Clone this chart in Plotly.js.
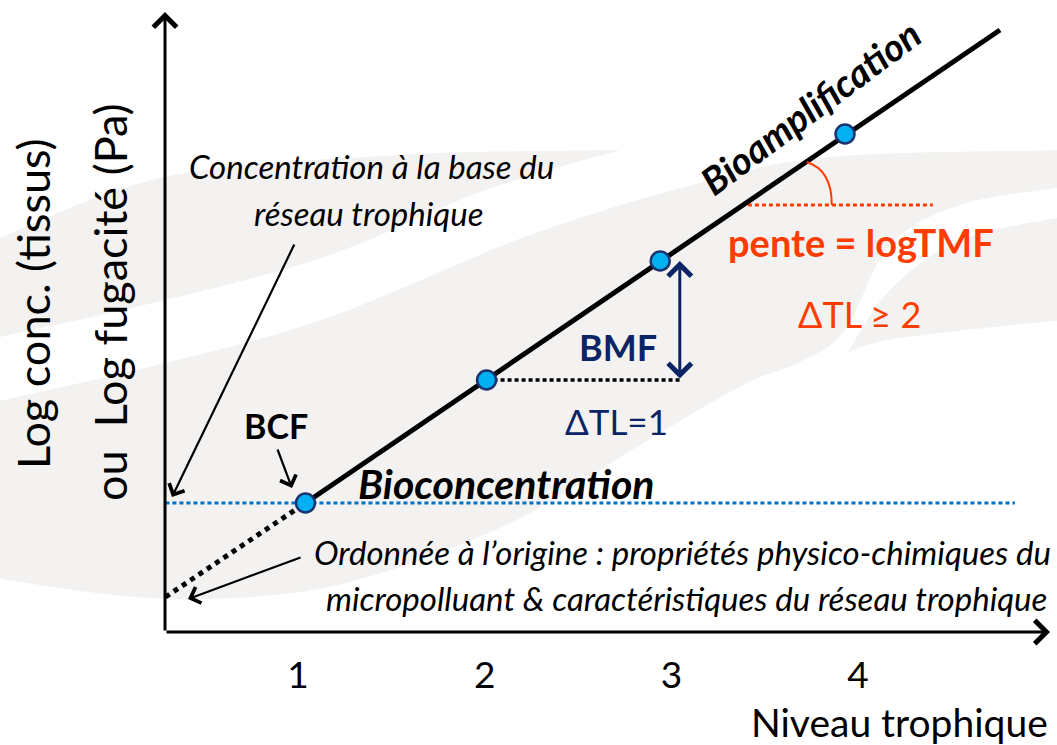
<!DOCTYPE html>
<html>
<head>
<meta charset="utf-8">
<script src="https://cdn.plot.ly/plotly-3.0.1.min.js"></script>
<style>html,body{margin:0;padding:0;background:#fff;}#chart{width:1057px;height:745px;}</style>
</head>
<body>
<div id="chart"></div>
<script>
// ---------- data ----------
const tickLevels = [1, 2, 3, 4];
const tickLabels = ['1', '2', '3', '4'];
const pointTL = [1.04, 2.01, 2.94, 3.93];
const pointLogC = [1.29, 2.52, 3.71, 4.98];
const fitTL = [1.04, 4.76];
const fitLogC = [1.29, 6.02];
const interceptTL = [0.29, 1.04];
const interceptLogC = [0.35, 1.29];
const baseTL = [0.29, 4.84];
const baseLogC = [1.29, 1.29];
const bmfTL = [2.01, 3.045];
const bmfLogC = [2.52, 2.52];
const slopeRefTL = [3.41, 4.40];
const slopeRefLogC = [4.27, 4.27];
const xRange = [0.2876, 5.028];
const yRange = [0, 6.2];

// ---------- layout helpers ----------
const M = {l: 165, r: 7, t: 12, b: 113};
const W = 1057 - M.l - M.r, H = 745 - M.t - M.b;
const px = x => (x - M.l) / W;
const py = y => (745 - M.b - y) / H;
const FONT = "Lato, 'Open Sans', sans-serif";
const RED = '#ff3c00', NAVY = '#0a2466', GREY = '#f3f2f0';

function curve(pts) {
  let s = '';
  for (let i = 0; i < pts.length - 1; i++) {
    const p0 = pts[Math.max(i - 1, 0)], p1 = pts[i], p2 = pts[i + 1], p3 = pts[Math.min(i + 2, pts.length - 1)];
    const c1 = [p1[0] + (p2[0] - p0[0]) / 6, p1[1] + (p2[1] - p0[1]) / 6];
    const c2 = [p2[0] - (p3[0] - p1[0]) / 6, p2[1] - (p3[1] - p1[1]) / 6];
    s += ` C${px(c1[0])},${py(c1[1])} ${px(c2[0])},${py(c2[1])} ${px(p2[0])},${py(p2[1])}`;
  }
  return s;
}
function blob(edgeA, edgeB) {
  let s = `M${px(edgeA[0][0])},${py(edgeA[0][1])}` + curve(edgeA);
  s += ` L${px(edgeB[0][0])},${py(edgeB[0][1])}` + curve(edgeB) + ' Z';
  return {type: 'path', xref: 'paper', yref: 'paper', layer: 'below', path: s, fillcolor: GREY, line: {width: 0}};
}

const shapes = [
  blob([[-5,240],[165,177],[400,155],[620,150]], [[620,150],[480,192],[330,255],[165,300],[-5,338]]),
  blob([[-5,402],[165,363],[330,317],[530,235],[700,183],[830,157],[1062,150]],
       [[1062,187],[960,205],[890,245],[845,330],[800,362],[743,385],[640,445],[530,513],[420,560],[300,592],[150,598],[-5,578]]),
  blob([[1062,217],[960,240],[890,290],[848,352]], [[848,352],[900,338],[1062,320]]),
  {type: 'path', xref: 'x', yref: 'y', path: 'M3.725,4.70 Q3.86,4.62 3.859,4.27', line: {color: RED, width: 2}}
];

function label(text, x, y, size, color, extra) {
  return Object.assign({xref: 'paper', yref: 'paper', x: px(x), y: py(y), text: text, showarrow: false,
    xanchor: 'center', yanchor: 'middle', font: {family: FONT, size: size, color: color || '#000'}}, extra || {});
}
function arrow(hx, hy, tx, ty, w, color) {
  return {xref: 'paper', yref: 'paper', x: px(hx), y: py(hy), ax: tx - hx, ay: ty - hy, axref: 'pixel', ayref: 'pixel',
    text: '', showarrow: true, arrowhead: 4, arrowsize: 1.5, arrowwidth: w, arrowcolor: color || '#000', standoff: 0};
}

const annotations = [
  arrow(165, 12, 165, 632, 3),
  arrow(1050, 632, 165, 632, 3),
  label('Log conc. (tissus)', 33, 304, 45, '#000', {textangle: -90}),
  label('ou  Log fugacité (Pa)', 110, 302, 45, '#000', {textangle: -90}),
  label('Niveau trophique', 1050, 722, 39, '#000', {xanchor: 'right'}),
  label('<i>Concentration à la base du</i>', 371, 166, 33),
  label('<i>réseau trophique</i>', 368, 213, 33),
  arrow(172, 497, 295, 243, 2.2),
  label('<b>BCF</b>', 276, 425, 34),
  arrow(292, 488, 277, 448, 2.2),
  label('<b><i>Bioconcentration</i></b>', 506, 483, 41),
  label('<i>Ordonnée à l’origine : propriétés physico-chimiques du</i>', 682, 552, 33),
  label('<i>micropolluant & caractéristiques du réseau trophique</i>', 686, 598, 33),
  arrow(188, 599, 302, 557, 2.2),
  label('<b>BMF</b>', 618, 347, 36, NAVY),
  label('ΔTL=1', 616, 421, 35, NAVY),
  {xref: 'x', yref: 'y', x: bmfTL[1], y: pointLogC[2], axref: 'x', ayref: 'y', ax: bmfTL[1], ay: bmfLogC[1],
   text: '', showarrow: true, arrowside: 'end+start', arrowhead: 4, arrowsize: 1.5, arrowwidth: 3, arrowcolor: NAVY, standoff: 0, startstandoff: 0},
  label('<b>pente = logTMF</b>', 861, 242, 38, RED),
  label('ΔTL ≥ 2', 859, 314, 36, RED),
  label('<b><i>Bioamplification</i></b>', 810, 107, 38, '#000', {textangle: -36.7})
];

const traces = [
  {x: baseTL, y: baseLogC, mode: 'lines', line: {color: '#0070c0', width: 3, dash: '4px,3px'}, hoverinfo: 'skip'},
  {x: interceptTL, y: interceptLogC, mode: 'lines', line: {color: '#000', width: 5, dash: 'dot'}, hoverinfo: 'skip'},
  {x: bmfTL, y: bmfLogC, mode: 'lines', line: {color: '#000', width: 3.5, dash: '4px,3px'}, hoverinfo: 'skip'},
  {x: slopeRefTL, y: slopeRefLogC, mode: 'lines', line: {color: RED, width: 3, dash: '4px,3px'}, hoverinfo: 'skip'},
  {x: fitTL, y: fitLogC, mode: 'lines', line: {color: '#000', width: 5}, hoverinfo: 'skip'},
  {x: pointTL, y: pointLogC, mode: 'markers', marker: {size: 19, color: '#00b0f0', line: {color: '#1b3470', width: 2.5}}}
];

const layout = {
  width: 1057, height: 745, margin: M, showlegend: false,
  paper_bgcolor: '#ffffff', plot_bgcolor: 'rgba(0,0,0,0)',
  font: {family: FONT},
  xaxis: {range: xRange, showgrid: false, zeroline: false, showline: false, ticks: '', ticklen: 0,
          tickvals: tickLevels, ticktext: tickLabels, ticklabelstandoff: 18,
          tickfont: {family: FONT, size: 37, color: '#000'}, fixedrange: true},
  yaxis: {range: yRange, showgrid: false, zeroline: false, showline: false, showticklabels: false, ticks: '', fixedrange: true},
  shapes: shapes,
  annotations: annotations
};

Plotly.newPlot('chart', traces, layout, {staticPlot: true, displayModeBar: false});
</script>
</body>
</html>
